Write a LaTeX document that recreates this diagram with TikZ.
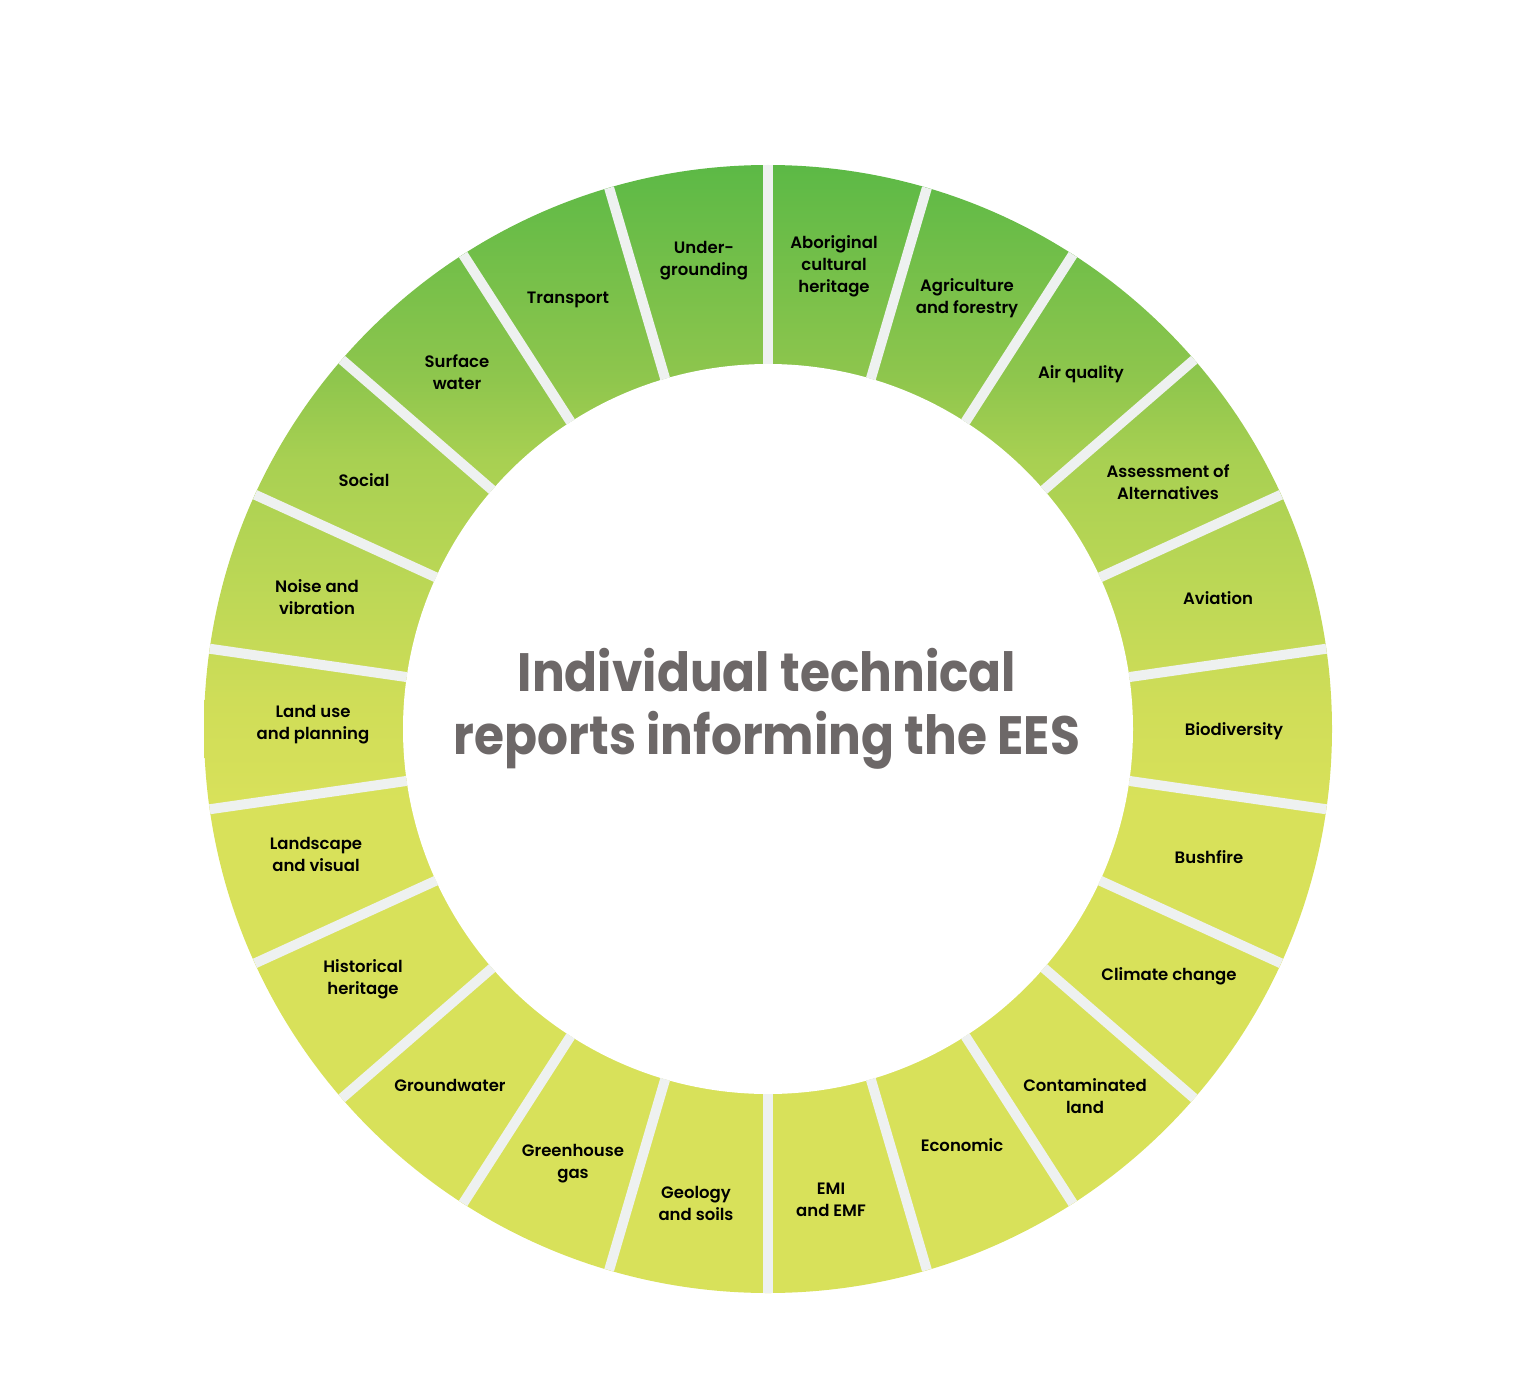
\documentclass[tikz,border=0pt]{standalone}
\usepackage{fontspec}
\usetikzlibrary{calc}
\setmainfont{Poppins}
\newfontfamily\titlefont[FakeStretch=0.9]{Poppins}
\newfontfamily\labelfont{Poppins SemiBold}
\definecolor{gapc}{HTML}{EEF1F0}
\definecolor{titlec}{HTML}{6D6868}
\definecolor{ringA}{HTML}{5CB946}
\definecolor{ringB}{HTML}{8FC64D}
\definecolor{ringC}{HTML}{A8D052}
\definecolor{ringD}{HTML}{BED856}
\definecolor{ringE}{HTML}{CFDD58}
\definecolor{ringF}{HTML}{D8E15A}
\pgfdeclareverticalshading{ringshade}{100bp}{color(0bp)=(ringF); color(25bp)=(ringF); color(46.85bp)=(ringF); color(51.29bp)=(ringE); color(55.72bp)=(ringD); color(61.92bp)=(ringC); color(65.47bp)=(ringB); color(75bp)=(ringA); color(100bp)=(ringA)}
\tikzset{
  gapline/.style={draw=gapc, line width=10pt},
  seglabel/.style={font=\labelfont\fontsize{16.5}{22}\selectfont, align=center, text=black, inner sep=0pt, yshift=-2.5pt},
  titletext/.style={font=\titlefont\bfseries\fontsize{54}{63}\selectfont, align=center, text=titlec, inner sep=0pt}
}
\begin{document}
\begin{tikzpicture}[x=1pt,y=-1pt]
\useasboundingbox (0,0) rectangle (1535,1386);
\coordinate (C) at (768,729);
\shade[shading=ringshade] (C) circle [radius=564];
\fill[white] (C) circle [radius=365];
\foreach \k in {0,...,21}{
  \pgfmathsetmacro{\ang}{90-\k*360/22}
  \draw[gapline] ($(C)+(\ang:365)$) -- ($(C)+(\ang:564)$);
}
\node[titletext] (title) at (767,709) {Individual technical\\reports informing the EES};
\node[seglabel] (l1) at (834,264) {Aboriginal\\cultural\\heritage};
\node[seglabel] (l2) at (967,296) {Agriculture\\and forestry};
\node[seglabel] (l3) at (1081,372) {Air quality};
\node[seglabel] (l4) at (1168,480) {Assessment of\\Alternatives};
\node[seglabel] (l5) at (1218,596) {Aviation};
\node[seglabel] (l6) at (1234,729) {Biodiversity};
\node[seglabel] (l7) at (1209,855) {Bushfire};
\node[seglabel] (l8) at (1169,974) {Climate change};
\node[seglabel] (l9) at (1085,1094) {Contaminated\\land};
\node[seglabel] (l10) at (962,1143) {Economic};
\node[seglabel] (l11) at (831,1197) {EMI\\and EMF};
\node[seglabel] (l12) at (696,1201) {Geology\\and soils};
\node[seglabel] (l13) at (573,1161) {Greenhouse\\gas};
\node[seglabel] (l14) at (450,1083) {Groundwater};
\node[seglabel] (l15) at (363,977) {Historical\\heritage};
\node[seglabel] (l16) at (316,852) {Landscape\\and visual};
\node[seglabel] (l17) at (313,722) {Land use\\and planning};
\node[seglabel] (l18) at (317,595) {Noise and\\vibration};
\node[seglabel] (l19) at (364,478) {Social};
\node[seglabel] (l20) at (457,370) {Surface\\water};
\node[seglabel] (l21) at (568,297) {Transport};
\node[seglabel] (l22) at (704,258) {Under-\\grounding};
\end{tikzpicture}
\end{document}
